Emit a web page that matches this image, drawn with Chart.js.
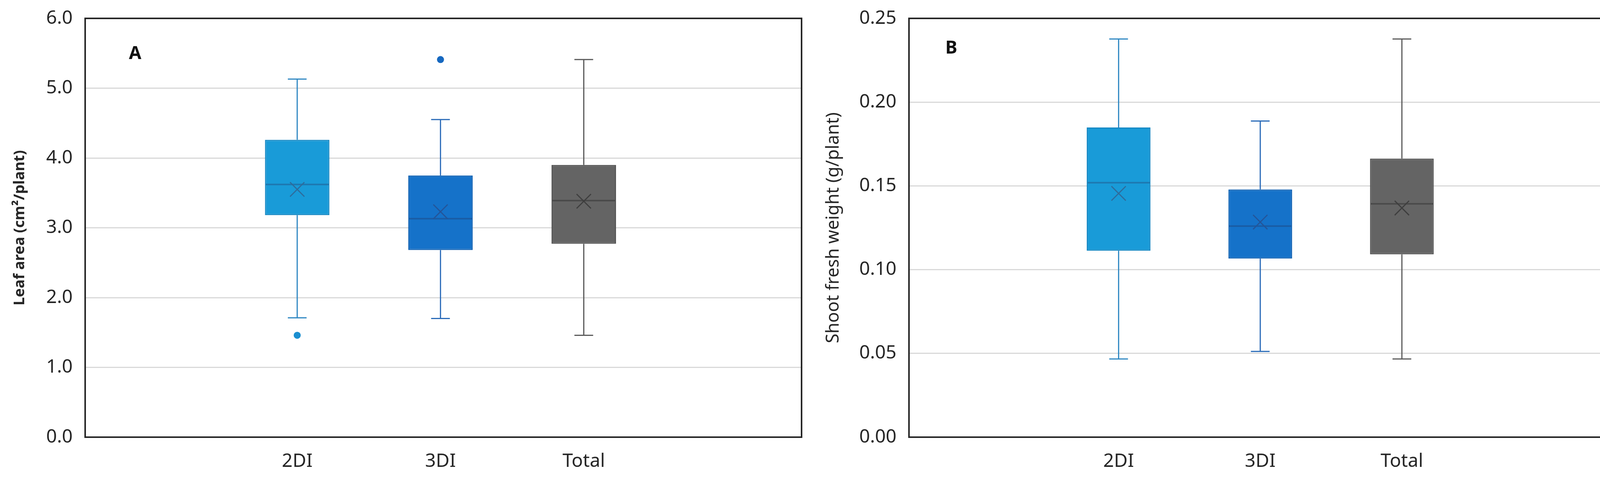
<!DOCTYPE html>
<html><head><meta charset="utf-8">
<script src="https://cdn.jsdelivr.net/npm/chart.js@4/dist/chart.umd.min.js"></script>
<style>
html,body{margin:0;padding:0;background:#fff;width:4176px;height:1248px;overflow:hidden}
#wa{position:absolute;left:0;top:0;width:2090px;height:1248px}
#wb{position:absolute;left:2090px;top:0;width:2086px;height:1248px}
</style>
</head><body>
<div id="wa"><canvas id="ca" width="2090" height="1248"></canvas></div>
<div id="wb"><canvas id="cb" width="2086" height="1248"></canvas></div>
<script>
// ---------- DATA ----------
const categories = ['2DI', '3DI', 'Total'];

const leafMin      = [1.71, 1.70, 1.46];
const leafQ1       = [3.18, 2.68, 2.77];
const leafMedian   = [3.62, 3.13, 3.39];
const leafQ3       = [4.26, 3.75, 3.90];
const leafMax      = [5.13, 4.55, 5.41];
const leafMean     = [3.55, 3.23, 3.38];
const leafOutliers = [[1.46], [5.41], []];
const leafTicks    = [0, 1, 2, 3, 4, 5, 6];

const shootMin      = [0.0467, 0.0512, 0.0467];
const shootQ1       = [0.1113, 0.1066, 0.1091];
const shootMedian   = [0.1519, 0.1260, 0.1393];
const shootQ3       = [0.1849, 0.1479, 0.1663];
const shootMax      = [0.2377, 0.1887, 0.2377];
const shootMean     = [0.1455, 0.1284, 0.1368];
const shootOutliers = [[], [], []];
const shootTicks    = [0, 0.05, 0.10, 0.15, 0.20, 0.25];

// ---------- STYLE ----------
const FONT = '"Noto Sans", "Open Sans", sans-serif';
const TEXT = '#262626';
const fillCol    = ['#199BD8', '#1572C9', '#646464'];
const edgeCol    = ['#1889C4', '#1464B4', '#565656'];
const whiskerCol = ['#2E87C2', '#2A6BB8', '#5A5A5A'];
const medianCol  = ['#1E78B0', '#1A5CA4', '#4A4A4A'];
const meanCol    = ['#2E6C9C', '#23559A', '#3E3E3E'];
const outCol     = ['#1B8FD0', '#1668C0', '#555555'];

function boxPlugin(st, letter, letterY) {
  return {
    id: 'boxParts',
    beforeDatasetsDraw(chart) {
      const {ctx, scales: {x, y}} = chart;
      ctx.save();
      ctx.lineWidth = 3;
      categories.forEach((c, i) => {
        const px = x.getPixelForValue(i + 1);
        const yMin = y.getPixelForValue(st.min[i]);
        const yMax = y.getPixelForValue(st.max[i]);
        ctx.strokeStyle = whiskerCol[i];
        ctx.beginPath();
        ctx.moveTo(px, yMin); ctx.lineTo(px, y.getPixelForValue(st.q1[i]));
        ctx.moveTo(px, y.getPixelForValue(st.q3[i])); ctx.lineTo(px, yMax);
        ctx.moveTo(px - 24, yMin); ctx.lineTo(px + 24, yMin);
        ctx.moveTo(px - 24, yMax); ctx.lineTo(px + 24, yMax);
        ctx.stroke();
      });
      ctx.restore();
    },
    afterDatasetDraw(chart, args) {
      if (args.index !== 0) return;
      const {ctx, scales: {y}} = chart;
      const meta = chart.getDatasetMeta(0);
      ctx.save();
      ctx.lineWidth = 4;
      categories.forEach((c, i) => {
        const bar = meta.data[i];
        const half = bar.width / 2 - 2;
        const py = y.getPixelForValue(st.median[i]);
        ctx.strokeStyle = medianCol[i];
        ctx.beginPath();
        ctx.moveTo(bar.x - half, py); ctx.lineTo(bar.x + half, py);
        ctx.stroke();
      });
      ctx.restore();
    },
    afterDraw(chart) {
      const {ctx, chartArea: a} = chart;
      ctx.save();
      ctx.strokeStyle = '#262626';
      ctx.lineWidth = 4;
      ctx.strokeRect(a.left, a.top, a.right - a.left, a.bottom - a.top);
      ctx.fillStyle = '#111';
      ctx.font = 'bold 46px ' + FONT;
      ctx.textAlign = 'left';
      ctx.textBaseline = 'alphabetic';
      ctx.fillText(letter, 330, letterY);
      ctx.restore();
    }
  };
}

function makeChart(canvasId, st, opt) {
  const datasets = [
    {
      type: 'bar',
      data: categories.map((c, i) => ({x: i + 1, y: [st.q1[i], st.q3[i]]})),
      backgroundColor: fillCol,
      borderColor: edgeCol,
      borderWidth: 3,
      borderSkipped: false,
      barPercentage: 0.45,
      categoryPercentage: 1,
      order: 3
    },
    {
      type: 'scatter',
      data: categories.map((c, i) => ({x: i + 1, y: st.mean[i]})),
      pointStyle: 'crossRot',
      pointRadius: 26,
      pointBorderWidth: 3,
      pointBorderColor: meanCol,
      pointBackgroundColor: 'rgba(0,0,0,0)',
      order: 1
    },
    {
      type: 'scatter',
      data: st.outliers.flatMap((arr, i) => arr.map(v => ({x: i + 1, y: v}))),
      pointStyle: 'circle',
      pointRadius: 9,
      pointBorderWidth: 0,
      pointBackgroundColor: st.outliers.flatMap((arr, i) => arr.map(() => outCol[i])),
      order: 2
    }
  ];
  return new Chart(document.getElementById(canvasId), {
    type: 'bar',
    data: {datasets},
    options: {
      responsive: false,
      animation: false,
      devicePixelRatio: 1,
      layout: {padding: {left: 0, top: 47, right: opt.padRight, bottom: 0}},
      plugins: {legend: {display: false}, tooltip: {enabled: false}},
      scales: {
        x: {
          type: 'linear', min: -0.48, max: 4.52, offset: false,
          grid: {display: false, drawTicks: false, offset: false},
          border: {display: false},
          afterBuildTicks: s => { s.ticks = categories.map((c, i) => ({value: i + 1})); },
          ticks: {
            autoSkip: false, maxRotation: 0, padding: 34, color: TEXT,
            font: {family: FONT, size: 48},
            callback: v => categories[Math.round(v) - 1] ?? ''
          },
          afterFit: s => { s.height = 130; s.paddingLeft = 0; s.paddingRight = 0; }
        },
        y: {
          type: 'linear', min: opt.ticks[0], max: opt.ticks[opt.ticks.length - 1],
          grid: {color: '#d9d9d9', lineWidth: 3, drawTicks: false},
          border: {display: false},
          afterBuildTicks: s => { s.ticks = opt.ticks.map(v => ({value: v})); },
          ticks: {
            padding: 32, color: TEXT, font: {family: FONT, size: 48},
            callback: v => Number(v).toFixed(opt.decimals)
          },
          title: {
            display: true, text: opt.title, color: TEXT,
            font: {family: FONT, size: opt.titleSize, weight: opt.titleWeight},
            padding: {top: opt.titlePad, bottom: 0}
          },
          afterFit: s => { s.width = opt.axisWidth; s.paddingTop = 0; s.paddingBottom = 0; }
        }
      }
    },
    plugins: [boxPlugin(st, opt.letter, opt.letterY)]
  });
}

makeChart('ca', {
  min: leafMin, q1: leafQ1, median: leafMedian, q3: leafQ3, max: leafMax,
  mean: leafMean, outliers: leafOutliers
}, {
  ticks: leafTicks, decimals: 1, title: 'Leaf area (cm\u00B2/plant)', titleSize: 38, titleWeight: 'bold',
  titlePad: 28, axisWidth: 218, padRight: 38, letter: 'A', letterY: 151
});

makeChart('cb', {
  min: shootMin, q1: shootQ1, median: shootMedian, q3: shootQ3, max: shootMax,
  mean: shootMean, outliers: shootOutliers
}, {
  ticks: shootTicks, decimals: 2, title: 'Shoot fresh weight (g/plant)', titleSize: 45, titleWeight: 'normal',
  titlePad: 17, axisWidth: 237, padRight: 36, letter: 'B', letterY: 137
});
</script>
</body></html>
